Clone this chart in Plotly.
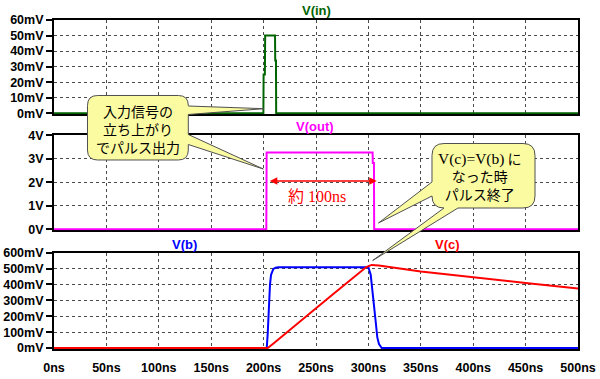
import plotly.graph_objects as go

# ---------------- data ----------------
t_in = [0, 199.8, 200.0, 201.2, 201.5, 210.9, 211.1, 211.8, 212.0, 500]
v_in = [0, 0, 25, 25, 50, 50, 34, 34, 0, 0]            # mV

t_out = [0, 202.6, 202.9, 304.0, 304.2, 305.3, 305.5, 500]
v_out = [0, 0, 3.27, 3.27, 2.82, 2.82, 0, 0]            # V

t_b = [0, 203.0, 203.9, 205.2, 206.1, 207.1, 209.3, 211.5, 214.0, 250, 300.0,
       302.2, 303.7, 305.3, 306.9, 308.5, 310.1, 312.7, 500]
v_b = [0, 0, 87, 295, 399, 461, 498, 505, 508, 508, 508,
       461, 378, 274, 170, 67, 25, 0, 0]                # mV

t_c = [0, 204.0, 210, 220, 235, 250, 266.5, 285, 298, 303, 310, 350, 400, 450, 500]
v_c = [0, 0, 32, 88, 168, 250, 340, 440, 510, 523, 520, 482, 444, 409, 374]  # mV

x_ticks = list(range(0, 501, 50))
x_labels = [f"{v}ns" for v in x_ticks]
y1_ticks = list(range(0, 61, 10))
y1_labels = [f"{v}mV" for v in y1_ticks]
y2_ticks = list(range(0, 5))
y2_labels = [f"{v}V" for v in y2_ticks]
y3_ticks = list(range(0, 601, 100))
y3_labels = [f"{v}mV" for v in y3_ticks]

# ---------------- geometry ----------------
W, H = 600, 379
ML, MR, MT, MB = 54, 22, 20, 30
PX0, PX1 = ML, W - MR
PY0, PY1 = MT, H - MB
P_TOP = (20.0, 114.3)
P_MID = (135.3, 230.3)
P_BOT = (252.7, 349.0)


def xp(px):
    return (px - PX0) / (PX1 - PX0)


def yp(py):
    return (PY1 - py) / (PY1 - PY0)


def dom(p):
    return [yp(p[1]), yp(p[0])]


def rng(p, top):
    h = p[1] - p[0]
    return [-top / h * 1.0, top]


GREEN = "#006400"
MAGENTA = "#ff00ff"
BLUE = "#0000ff"
RED = "#ff0000"
GRID = "#4a4a4a"
TICKFONT = dict(family="Liberation Sans", size=12.5, color="black", weight="bold")

fig = go.Figure()
fig.add_trace(go.Scatter(x=t_in, y=v_in, mode="lines", line=dict(color=GREEN, width=2),
                         xaxis="x", yaxis="y", showlegend=False))
fig.add_trace(go.Scatter(x=t_out, y=v_out, mode="lines", line=dict(color=MAGENTA, width=2),
                         xaxis="x2", yaxis="y2", showlegend=False))
fig.add_trace(go.Scatter(x=t_b, y=v_b, mode="lines", line=dict(color=BLUE, width=2),
                         xaxis="x3", yaxis="y3", showlegend=False))
fig.add_trace(go.Scatter(x=t_c, y=v_c, mode="lines", line=dict(color=RED, width=2),
                         xaxis="x3", yaxis="y3", showlegend=False))

xcommon = dict(range=[0, 500], domain=[0, 1], showgrid=True, gridcolor=GRID, gridwidth=1,
               griddash="3px,3px", tickvals=x_ticks, showline=True, linecolor="black",
               linewidth=2, mirror=True, zeroline=False, layer="below traces",
               automargin=False)
ycommon = dict(showgrid=True, gridcolor=GRID, gridwidth=1, griddash="3px,3px",
               showline=True, linecolor="black", linewidth=2, mirror=True, zeroline=False,
               ticks="outside", ticklen=6, tickwidth=2, tickcolor="black",
               tickfont=TICKFONT, layer="below traces", automargin=False)

fig.update_layout(
    width=W, height=H,
    margin=dict(l=ML, r=MR, t=MT, b=MB, autoexpand=False),
    paper_bgcolor="white", plot_bgcolor="white",
    xaxis=dict(anchor="y", showticklabels=False, ticks="", **xcommon),
    xaxis2=dict(anchor="y2", showticklabels=False, ticks="", **xcommon),
    xaxis3=dict(anchor="y3", ticktext=x_labels, ticks="outside", ticklen=6,
                tickcolor="rgba(0,0,0,0)", tickfont=TICKFONT, **xcommon),
    yaxis=dict(anchor="x", domain=dom(P_TOP), range=rng(P_TOP, 60),
               tickvals=y1_ticks, ticktext=y1_labels, **ycommon),
    yaxis2=dict(anchor="x2", domain=dom(P_MID), range=rng(P_MID, 4),
                tickvals=y2_ticks, ticktext=y2_labels, **ycommon),
    yaxis3=dict(anchor="x3", domain=dom(P_BOT), range=rng(P_BOT, 600),
                tickvals=y3_ticks, ticktext=y3_labels, **ycommon),
)


def path_from_px(cmds):
    out = []
    for c in cmds:
        if c == "Z":
            out.append("Z")
            continue
        op, pts = c[0], c[1:]
        s = op + " " + " ".join(f"{xp(px):.5f},{yp(py):.5f}" for px, py in pts)
        out.append(s)
    return " ".join(out)


FILL = "#fbfba2"
EDGE = "#505050"

# callout 1 (two pointers on the right edge)
x0, x1, y0, y1, r = 87.5, 188.3, 95.5, 160.0, 10
c1 = [
    ("M", (x0 + r, y0)), ("L", (x1 - r, y0)), ("Q", (x1, y0), (x1, y0 + r)),
    ("L", (x1, 106.0)), ("L", (264.0, 108.7)), ("L", (x1, 114.5)),
    ("L", (x1, 134.5)), ("L", (263.3, 169.0)), ("L", (x1, 144.5)),
    ("L", (x1, y1 - r)), ("Q", (x1, y1), (x1 - r, y1)),
    ("L", (x0 + r, y1)), ("Q", (x0, y1), (x0, y1 - r)),
    ("L", (x0, y0 + r)), ("Q", (x0, y0), (x0 + r, y0)), "Z",
]
# callout 2 (pointer on left edge and on bottom edge)
X0, X1, Y0, Y1, R = 432.0, 535.0, 143.5, 208.0, 12
c2 = [
    ("M", (X0 + R, Y0)), ("L", (X1 - R, Y0)), ("Q", (X1, Y0), (X1, Y0 + R)),
    ("L", (X1, Y1 - R)), ("Q", (X1, Y1), (X1 - R, Y1)),
    ("L", (458.0, Y1)), ("L", (372.7, 260.5)), ("L", (444.0, Y1)),
    ("Q", (X0, Y1), (X0, Y1 - R)),
    ("L", (X0, 196.0)), ("L", (378.5, 223.0)), ("L", (X0, 182.0)),
    ("L", (X0, Y0 + R)), ("Q", (X0, Y0), (X0 + R, Y0)), "Z",
]
for c in (c1, c2):
    fig.add_shape(type="path", xref="paper", yref="paper", path=path_from_px(c),
                  fillcolor=FILL, line=dict(color=EDGE, width=1), layer="above")

ann = []


def label(text, px, py, color, size=13, family="Liberation Sans", weight="bold"):
    ann.append(dict(text=text, x=xp(px), y=yp(py), xref="paper", yref="paper",
                    showarrow=False, xanchor="center", yanchor="middle",
                    font=dict(family=family, size=size, color=color, weight=weight)))


label("V(in)", 316, 11, GREEN)
label("V(out)", 315, 127, MAGENTA)
label("V(b)", 184, 244, BLUE)
label("V(c)", 447, 244, RED)

JP = "Noto Sans CJK JP"
label("入力信号の<br>立ち上がり<br>でパルス出力", 137.5, 128.5, "black", size=14,
      family=JP, weight="normal")
label("<span style='font-family:Liberation Serif;font-size:15.5px'>V(c)=V(b)</span> に<br>なった時<br>パルス終了",
      480, 176.2, "black", size=14, family=JP, weight="normal")

label("約 100ns", 316.5, 196.7, RED, size=16, family="Liberation Serif, Noto Sans CJK JP",
      weight="normal")

# pulse-width arrow (data coords of the middle panel)
ann.append(dict(text="", x=308.0, y=2.06, xref="x2", yref="y2",
                ax=204.5, ay=2.06, axref="x2", ayref="y2", showarrow=True,
                arrowhead=2, arrowside="end+start", arrowsize=1, arrowwidth=1.5,
                arrowcolor=RED, standoff=0, startstandoff=0))

fig.update_layout(annotations=ann)
fig.write_html("out.html", config={"displayModeBar": False},
               post_script="document.body.style.margin='0';document.body.style.overflow='hidden';")
